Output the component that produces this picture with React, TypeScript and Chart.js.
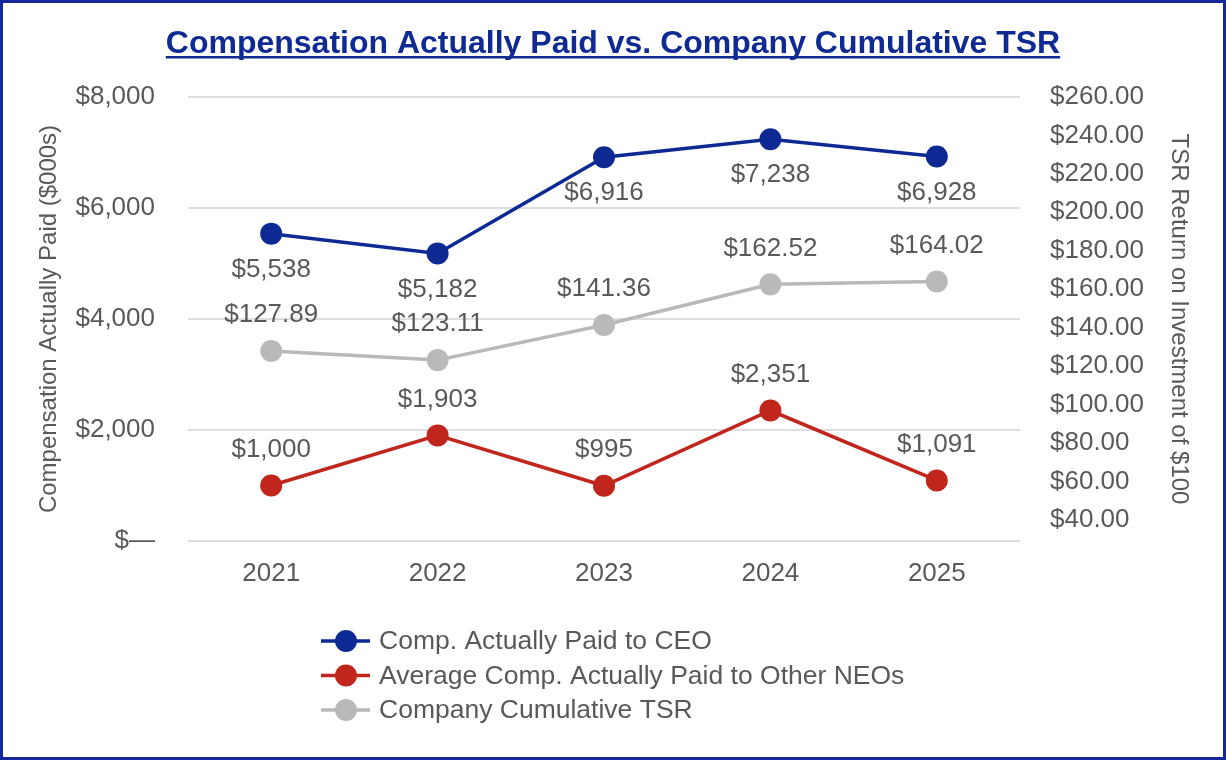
import React, { useEffect, useRef } from "react";
import { Chart, registerables } from "chart.js";

Chart.register(...registerables);

const years = ["2021", "2022", "2023", "2024", "2025"];
const ceoPaid = [5538, 5182, 6916, 7238, 6928];
const neoPaid = [1000, 1903, 995, 2351, 1091];
const companyTsr = [127.89, 123.11, 141.36, 162.52, 164.02];
const leftTickValues = [0, 2000, 4000, 6000, 8000];
const rightTickValues = [40, 60, 80, 100, 120, 140, 160, 180, 200, 220, 240, 260];
const seriesLabels = [
  "Comp. Actually Paid to CEO",
  "Average Comp. Actually Paid to Other NEOs",
  "Company Cumulative TSR",
];
const chartTitle = "Compensation Actually Paid vs. Company Cumulative TSR";
const leftAxisTitle = "Compensation Actually Paid ($000s)";
const rightAxisTitle = "TSR Return on Investment of $100";

const FONT = '"Liberation Sans", Arial, Helvetica, sans-serif';
const TEXT = "#595959";
const NAVY = "#0d2a94";
const TITLE_NAVY = "#0f2a92";
const RED = "#c0261c";
const GRAY = "#b9b9b9";
const BORDER = "#14289b";

const fmtUsd0 = (v: number) => (v === 0 ? "$\u2014" : "$" + v.toLocaleString("en-US"));
const fmtUsd2 = (v: number) => "$" + v.toFixed(2);

const overlayPlugin = {
  id: "overlay",
  afterDatasetsDraw(chart: any) {
    const ctx = chart.ctx;
    ctx.save();
    ctx.font = `26px ${FONT}`;
    ctx.fillStyle = TEXT;
    ctx.textAlign = "center";
    ctx.textBaseline = "middle";
    chart.data.datasets.forEach((ds: any, i: number) => {
      const meta = chart.getDatasetMeta(i);
      meta.data.forEach((pt: any, j: number) => {
        const v = ds.data[j] as number;
        const text = ds.yAxisID === "y2" ? fmtUsd2(v) : fmtUsd0(v);
        ctx.fillText(text, pt.x, pt.y + ds.labelSide * 36);
      });
    });
    ctx.restore();
  },
  afterDraw(chart: any) {
    const ctx = chart.ctx;
    const cx = chart.width / 2;
    ctx.save();
    ctx.font = `bold 32px ${FONT}`;
    ctx.fillStyle = TITLE_NAVY;
    ctx.textAlign = "center";
    ctx.textBaseline = "alphabetic";
    ctx.fillText(chartTitle, cx, 50);
    const w = ctx.measureText(chartTitle).width;
    ctx.fillRect(cx - w / 2, 53, w, 2.5);

    ctx.font = `26.5px ${FONT}`;
    ctx.textAlign = "left";
    ctx.textBaseline = "middle";
    chart.data.datasets.forEach((ds: any, i: number) => {
      const y = 638 + i * 34.5;
      ctx.strokeStyle = ds.borderColor;
      ctx.lineWidth = 3.5;
      ctx.beginPath();
      ctx.moveTo(318, y);
      ctx.lineTo(367, y);
      ctx.stroke();
      ctx.fillStyle = ds.pointBackgroundColor;
      ctx.beginPath();
      ctx.arc(343, y, 11, 0, Math.PI * 2);
      ctx.fill();
      ctx.fillStyle = TEXT;
      ctx.fillText(ds.label, 376, y + 1);
    });
    ctx.restore();
  },
};

export default function App() {
  const canvasRef = useRef<HTMLCanvasElement | null>(null);

  useEffect(() => {
    document.body.style.margin = "0";
    const canvas = canvasRef.current;
    if (!canvas) return;
    const chart = new Chart(canvas, {
      type: "line",
      data: {
        labels: years,
        datasets: [
          {
            label: seriesLabels[0],
            data: ceoPaid,
            yAxisID: "y",
            borderColor: NAVY,
            backgroundColor: NAVY,
            pointBackgroundColor: NAVY,
            borderWidth: 3.5,
            pointRadius: 11,
            pointBorderWidth: 0,
            tension: 0,
            labelSide: 1,
          } as any,
          {
            label: seriesLabels[1],
            data: neoPaid,
            yAxisID: "y",
            borderColor: RED,
            backgroundColor: RED,
            pointBackgroundColor: RED,
            borderWidth: 3.5,
            pointRadius: 11,
            pointBorderWidth: 0,
            tension: 0,
            labelSide: -1,
          } as any,
          {
            label: seriesLabels[2],
            data: companyTsr,
            yAxisID: "y2",
            borderColor: GRAY,
            backgroundColor: GRAY,
            pointBackgroundColor: GRAY,
            borderWidth: 3.5,
            pointRadius: 11,
            pointBorderWidth: 0,
            tension: 0,
            labelSide: -1,
          } as any,
        ],
      },
      options: {
        responsive: false,
        animation: false,
        layout: { padding: { top: 94, bottom: 176, left: 0, right: 0 } },
        plugins: {
          legend: { display: false },
          title: { display: false },
          tooltip: { enabled: false },
        },
        scales: {
          x: {
            type: "category",
            offset: true,
            grid: { display: false, drawTicks: false },
            border: { display: false },
            ticks: { color: TEXT, font: { size: 26, family: FONT }, padding: 17 },
            afterFit(s: any) {
              s.height = 40;
            },
          },
          y: {
            position: "left",
            min: 0,
            max: 8000,
            afterBuildTicks(s: any) {
              s.ticks = leftTickValues.map((v) => ({ value: v }));
            },
            grid: { color: "#dedede", lineWidth: 2, drawTicks: false },
            border: { display: false },
            ticks: {
              color: TEXT,
              font: { size: 26, family: FONT },
              padding: 33,
              callback: (v: any) => fmtUsd0(Number(v)),
            },
            title: {
              display: true,
              text: leftAxisTitle,
              color: TEXT,
              font: { size: 24, family: FONT },
              padding: { top: 32, bottom: 0 },
            },
            afterFit(s: any) {
              s.width = 185;
            },
          },
          y2: {
            position: "right",
            min: 29,
            max: 260,
            afterBuildTicks(s: any) {
              s.ticks = rightTickValues.map((v) => ({ value: v }));
            },
            grid: { display: false, drawTicks: false },
            border: { display: false },
            ticks: {
              color: TEXT,
              font: { size: 26, family: FONT },
              padding: 30,
              callback: (v: any) => fmtUsd2(Number(v)),
            },
            title: {
              display: true,
              text: rightAxisTitle,
              color: TEXT,
              font: { size: 24, family: FONT },
              padding: { top: 30, bottom: 0 },
            },
            afterFit(s: any) {
              s.width = 203;
            },
          },
        },
      } as any,
      plugins: [overlayPlugin],
    });
    return () => chart.destroy();
  }, []);

  return (
    <div
      style={{
        width: 1226,
        height: 760,
        boxSizing: "border-box",
        border: `3px solid ${BORDER}`,
        background: "#ffffff",
        position: "relative",
        overflow: "hidden",
      }}
    >
      <canvas ref={canvasRef} width={1220} height={754} style={{ display: "block" }} />
    </div>
  );
}
